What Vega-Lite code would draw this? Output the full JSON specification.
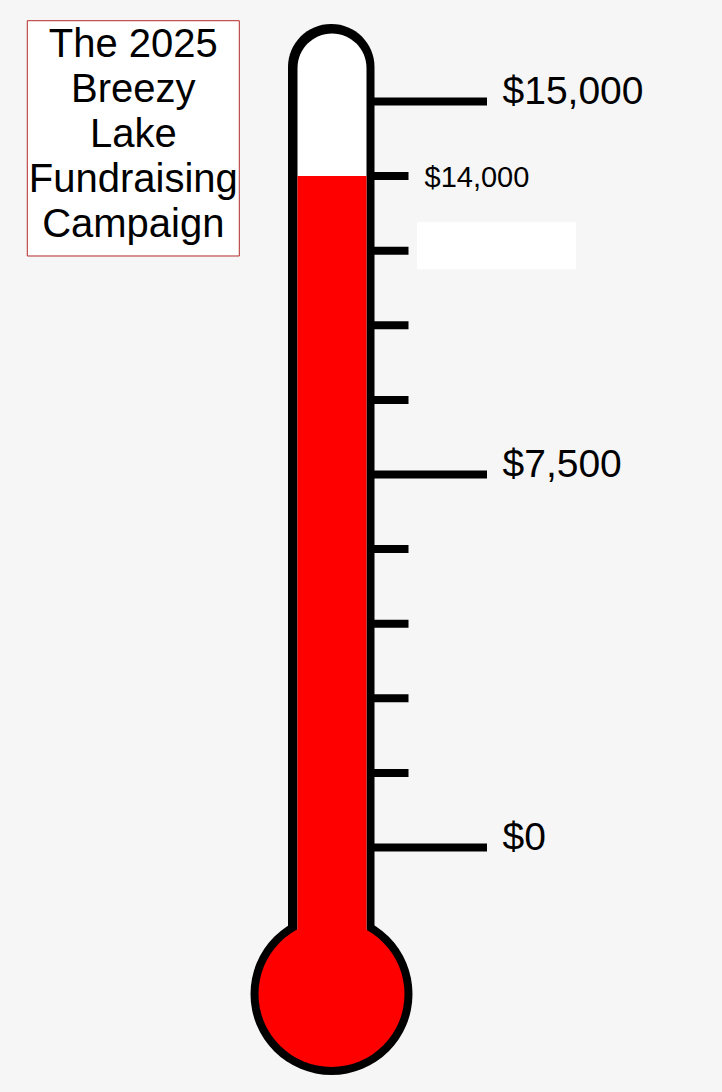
{
  "$schema": "https://vega.github.io/schema/vega-lite/v6.json",
  "width": 722,
  "height": 1092,
  "padding": 0,
  "autosize": {"type": "none"},
  "background": "#f6f6f6",
  "config": {"view": {"stroke": null}},
  "datasets": {
    "campaign": [
      {"title": "The 2025\nBreezy\nLake\nFundraising\nCampaign", "raised": 13500, "goal": 15000}
    ],
    "ticks": [
      {"amount": 0, "label": "$0", "major": true},
      {"amount": 1500, "label": "", "major": false},
      {"amount": 3000, "label": "", "major": false},
      {"amount": 4500, "label": "", "major": false},
      {"amount": 6000, "label": "", "major": false},
      {"amount": 7500, "label": "$7,500", "major": true},
      {"amount": 9000, "label": "", "major": false},
      {"amount": 10500, "label": "", "major": false},
      {"amount": 12000, "label": "", "major": false},
      {"amount": 13500, "label": "$14,000", "major": false},
      {"amount": 15000, "label": "$15,000", "major": true}
    ]
  },
  "data": {"name": "campaign"},
  "layer": [
    {
      "mark": {"type": "rect", "fill": "white", "stroke": "#b52a2a", "strokeWidth": 1},
      "encoding": {
        "x": {"datum": 27.3, "type": "quantitative", "scale": {"domain": [0, 722], "nice": false, "zero": false}, "axis": null},
        "x2": {"datum": 239.3},
        "y": {"datum": 16624.6, "type": "quantitative", "scale": {"domain": [-4916.2, 17040.9], "nice": false, "zero": false}, "axis": null},
        "y2": {"datum": 11893.5}
      }
    },
    {
      "mark": {"type": "text", "font": "Liberation Sans", "fontSize": 40, "align": "center", "baseline": "alphabetic", "lineBreak": "\n", "lineHeight": 45, "color": "black"},
      "encoding": {
        "x": {"datum": 133.3, "type": "quantitative"},
        "y": {"datum": 15894.9, "type": "quantitative"},
        "text": {"field": "title", "type": "nominal"}
      }
    },
    {
      "mark": {"type": "point", "shape": "circle", "filled": true, "color": "black", "opacity": 1, "size": 26244, "strokeWidth": 0},
      "encoding": {
        "x": {"datum": 331.5, "type": "quantitative"},
        "y": {"datum": -2945.7, "type": "quantitative"}
      }
    },
    {
      "mark": {"type": "rect", "color": "black", "cornerRadiusTopLeft": 43, "cornerRadiusTopRight": 43},
      "encoding": {
        "x": {"datum": 288, "type": "quantitative"},
        "x2": {"datum": 374.5},
        "y": {"datum": 16558, "type": "quantitative"},
        "y2": {"datum": -2262}
      }
    },
    {
      "mark": {"type": "rect", "color": "white", "cornerRadiusTopLeft": 34.5, "cornerRadiusTopRight": 34.5},
      "encoding": {
        "x": {"datum": 297.5, "type": "quantitative"},
        "x2": {"datum": 366.5},
        "y": {"datum": 16367, "type": "quantitative"},
        "y2": {"datum": -2262}
      }
    },
    {
      "mark": {"type": "rect", "color": "#fe0000"},
      "encoding": {
        "x": {"datum": 297.5, "type": "quantitative"},
        "x2": {"datum": 366.5},
        "y": {"field": "raised", "type": "quantitative"},
        "y2": {"datum": -2262}
      }
    },
    {
      "mark": {"type": "point", "shape": "circle", "filled": true, "color": "#fe0000", "opacity": 1, "size": 21316, "strokeWidth": 0},
      "encoding": {
        "x": {"datum": 331.5, "type": "quantitative"},
        "y": {"datum": -2945.7, "type": "quantitative"}
      }
    },
    {
      "data": {"name": "ticks"},
      "transform": [{"filter": "datum.major"}],
      "mark": {"type": "rule", "color": "black", "strokeWidth": 8, "strokeCap": "butt"},
      "encoding": {
        "x": {"datum": 372, "type": "quantitative"},
        "x2": {"datum": 487},
        "y": {"field": "amount", "type": "quantitative"}
      }
    },
    {
      "data": {"name": "ticks"},
      "transform": [{"filter": "!datum.major"}],
      "mark": {"type": "rule", "color": "black", "strokeWidth": 8, "strokeCap": "butt"},
      "encoding": {
        "x": {"datum": 372, "type": "quantitative"},
        "x2": {"datum": 408.5},
        "y": {"field": "amount", "type": "quantitative"}
      }
    },
    {
      "data": {"name": "ticks"},
      "transform": [{"filter": "datum.major"}],
      "mark": {"type": "text", "font": "Liberation Sans", "fontSize": 39, "align": "left", "baseline": "middle", "dy": -10, "color": "black"},
      "encoding": {
        "x": {"datum": 502.5, "type": "quantitative"},
        "y": {"field": "amount", "type": "quantitative"},
        "text": {"field": "label", "type": "nominal"}
      }
    },
    {
      "data": {"name": "ticks"},
      "transform": [{"filter": "!datum.major && datum.label != ''"}],
      "mark": {"type": "text", "font": "Liberation Sans", "fontSize": 29, "align": "left", "baseline": "middle", "dy": 2, "color": "black"},
      "encoding": {
        "x": {"datum": 424.5, "type": "quantitative"},
        "y": {"field": "amount", "type": "quantitative"},
        "text": {"field": "label", "type": "nominal"}
      }
    },
    {
      "mark": {"type": "rect", "color": "white"},
      "encoding": {
        "x": {"datum": 417, "type": "quantitative"},
        "x2": {"datum": 576},
        "y": {"datum": 12571, "type": "quantitative"},
        "y2": {"datum": 11626}
      }
    }
  ]
}
